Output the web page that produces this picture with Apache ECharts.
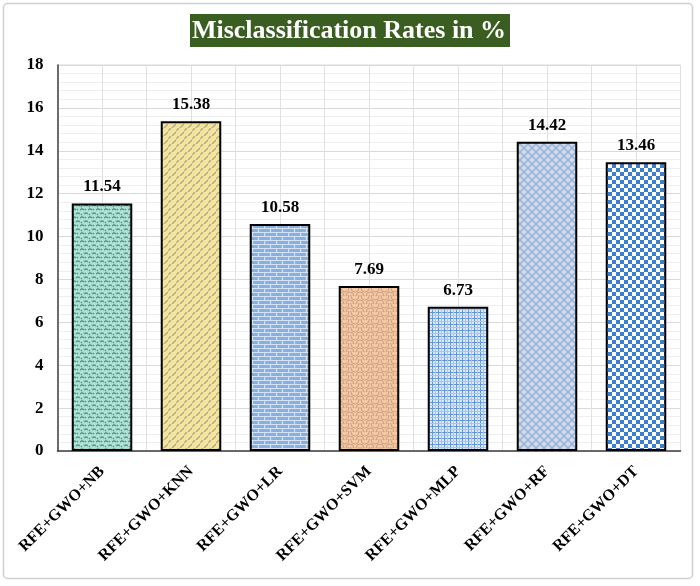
<!DOCTYPE html>
<html><head><meta charset="utf-8">
<script src="https://cdn.jsdelivr.net/npm/echarts@6/dist/echarts.min.js"></script>
<style>html,body{margin:0;padding:0;background:#fff}#c{width:700px;height:586px}</style>
</head><body><div id="c"></div>
<script>
const categories = ['RFE+GWO+NB','RFE+GWO+KNN','RFE+GWO+LR','RFE+GWO+SVM','RFE+GWO+MLP','RFE+GWO+RF','RFE+GWO+DT'];
const rates = [11.54, 15.38, 10.58, 7.69, 6.73, 14.42, 13.46];
const yTicks = [0,2,4,6,8,10,12,14,16,18];
const titleText = 'Misclassification Rates in %';

function pat(w, h, bg, draw) {
  const c = document.createElement('canvas'); c.width = w; c.height = h;
  const x = c.getContext('2d'); x.fillStyle = bg; x.fillRect(0,0,w,h); draw(x);
  return {image: c, repeat: 'repeat'};
}
const patterns = [
  pat(8,8,'#b0e2cd',x=>{x.strokeStyle='#4f94aa';x.lineWidth=1.5;x.beginPath();x.moveTo(0,2);x.quadraticCurveTo(2,0,4,2);x.moveTo(4,6);x.quadraticCurveTo(6,4,8,6);x.moveTo(1,6);x.lineTo(2,7);x.moveTo(5,1);x.lineTo(6,2);x.stroke();}),
  pat(8,8,'#f3e49e',x=>{x.strokeStyle='#b3a98a';x.lineWidth=1.3;x.beginPath();x.moveTo(0,3);x.lineTo(3,0);x.moveTo(4,8);x.lineTo(8,4);x.stroke();}),
  pat(12,8,'#86afe2',x=>{x.strokeStyle='#d6e3f4';x.lineWidth=1.2;x.beginPath();x.moveTo(0,0.5);x.lineTo(12,0.5);x.moveTo(0,4.5);x.lineTo(12,4.5);x.moveTo(0.5,0);x.lineTo(0.5,4);x.moveTo(6.5,4);x.lineTo(6.5,8);x.stroke();}),
  pat(10,8,'#f7c7a2',x=>{x.strokeStyle='#c7a28a';x.lineWidth=1;x.beginPath();x.arc(5,0,4,0,Math.PI);x.moveTo(4,8);x.arc(0,8,4,Math.PI,2*Math.PI);x.moveTo(14,8);x.arc(10,8,4,Math.PI,2*Math.PI);x.stroke();}),
  pat(6,6,'#dfe9f8',x=>{x.strokeStyle='#6394d6';x.lineWidth=1;x.beginPath();x.moveTo(0,0.5);x.lineTo(6,0.5);x.moveTo(0.5,0);x.lineTo(0.5,6);x.stroke();x.strokeStyle='#a9c4ea';x.beginPath();x.moveTo(0,3.5);x.lineTo(6,3.5);x.moveTo(3.5,0);x.lineTo(3.5,6);x.stroke();}),
  pat(8,8,'#d3dbe6',x=>{x.strokeStyle='#92b1dc';x.lineWidth=1.4;x.beginPath();x.moveTo(0,0);x.lineTo(8,8);x.moveTo(8,0);x.lineTo(0,8);x.stroke();}),
  pat(8,8,'#ffffff',x=>{x.fillStyle='#3f7fd0';x.fillRect(0,0,4,4);x.fillRect(4,4,4,4);})
];

const chart = echarts.init(document.getElementById('c'), null, {renderer:'canvas'});
const serif = '"Liberation Serif","Times New Roman",serif';
chart.setOption({
  backgroundColor: '#ffffff',
  animation: false,
  graphic: [
    {type:'rect', shape:{x:3.5,y:3.5,width:689,height:575,r:4}, style:{fill:'none',stroke:'#d0d0d0',lineWidth:1.5}, z:-10},
    {type:'rect', shape:{x:190,y:14,width:320,height:33}, style:{fill:'#3a5d22'}},
    {type:'text', x:349, y:31, style:{text:titleText, fill:'#ffffff', font:'bold 26px "Liberation Serif", serif', textAlign:'center', textVerticalAlign:'middle'}}
  ],
  grid: {left:57.5, right:19.5, top:65, bottom:135, show:true, borderColor:'#d9d9d9', borderWidth:1},
  xAxis: [
    {type:'category', data:categories, axisTick:{show:false},
     axisLine:{lineStyle:{color:'#404040',width:1.5}},
     splitLine:{show:false},
     axisLabel:{rotate:45, interval:0, margin:18, color:'#000', fontFamily:serif, fontWeight:'bold', fontSize:16}},
    {type:'value', min:0, max:14, interval:1, position:'top', axisLine:{show:false}, axisTick:{show:false}, axisLabel:{show:false},
     splitLine:{show:true, lineStyle:{color:'#e0e0e0', width:1}}}
  ],
  yAxis: {type:'value', min:yTicks[0], max:yTicks[yTicks.length-1], interval:2,
    axisLine:{show:true, lineStyle:{color:'#404040', width:1.5}}, axisTick:{show:false},
    axisLabel:{color:'#000', fontFamily:serif, fontWeight:'bold', fontSize:17, margin:14},
    splitLine:{lineStyle:{color:'#d9d9d9', width:1}},
    minorTick:{show:false, splitNumber:5},
    minorSplitLine:{show:true, lineStyle:{color:'#eeeeee', width:1}}},
  series: [{
    type:'bar', xAxisIndex:0, barWidth:'68%',
    data: rates.map((v,i)=>({value:v, itemStyle:{color:patterns[i]}})),
    itemStyle:{borderColor:'#000', borderWidth:2},
    label:{show:true, position:'top', distance:8, color:'#000', fontFamily:serif, fontWeight:'bold', fontSize:17,
      formatter:p=>p.value.toFixed(2)}
  }]
});
</script></body></html>
